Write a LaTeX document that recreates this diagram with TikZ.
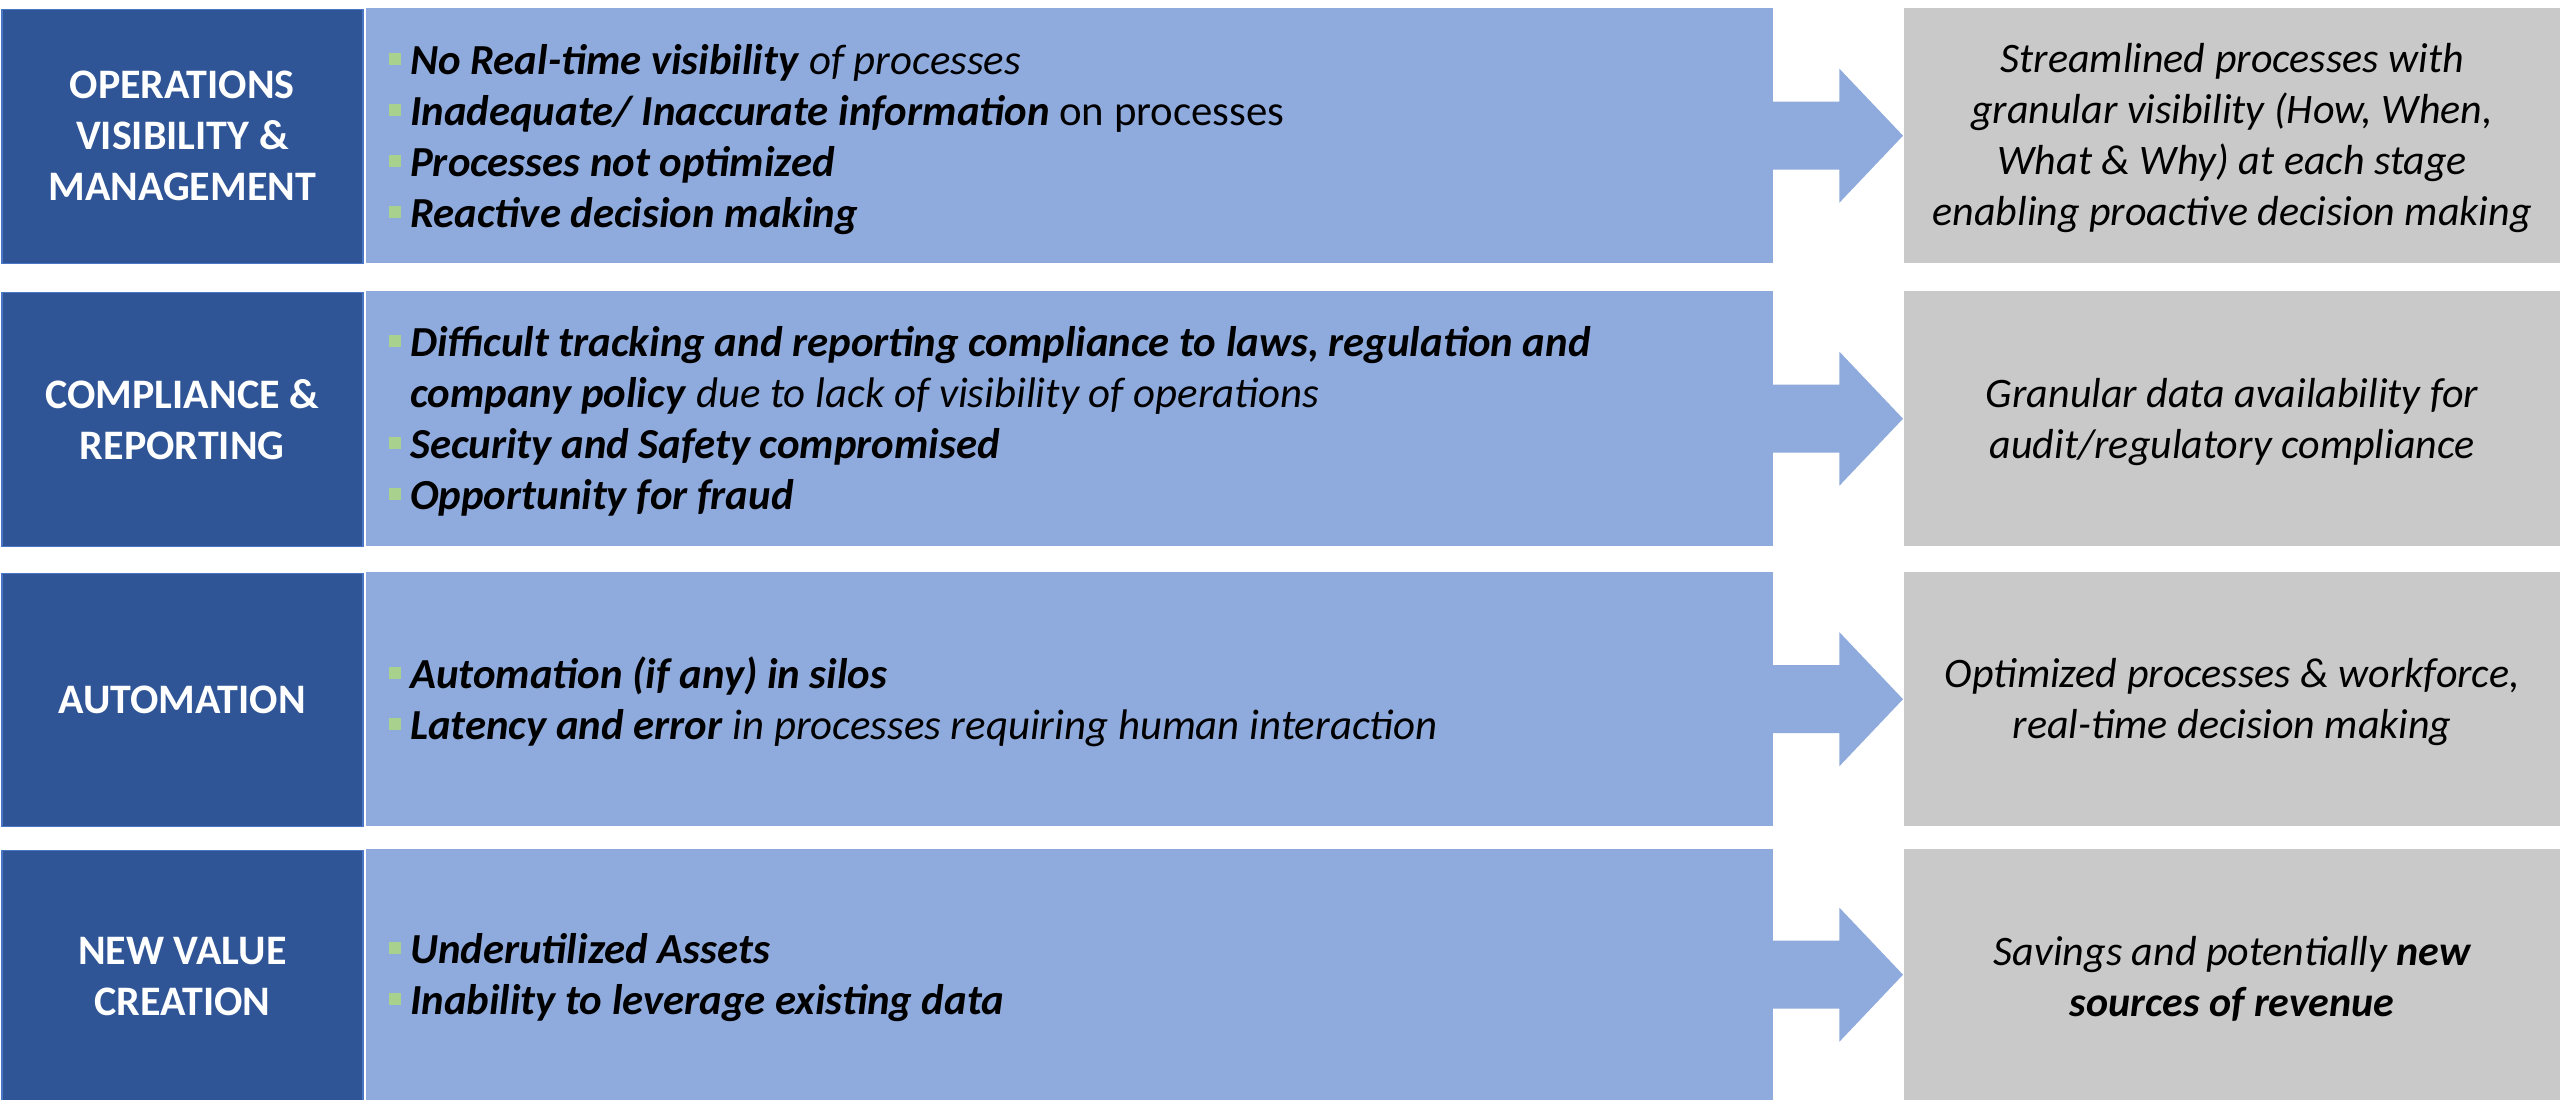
\documentclass[tikz,border=0pt]{standalone}
\usepackage{fontspec}
\setmainfont{Carlito}
\usetikzlibrary{calc}

\definecolor{darkblue}{HTML}{2F5597}
\definecolor{darkedge}{HTML}{4A76C6}
\definecolor{lightblue}{HTML}{8FAADC}
\definecolor{softgray}{HTML}{C9C9C9}
\definecolor{bulgreen}{HTML}{A9D18E}

% green square bullet and the matching hanging indent
\newcommand\bsq{\makebox[21pt][l]{\textcolor{bulgreen}{\rule[9.5pt]{12pt}{12pt}}}}
\newcommand\hang{\hspace*{21pt}}

\tikzset{
  headbox/.style={anchor=north west, fill=darkblue, draw=darkedge, line width=1.5pt,
    text=white, font=\bfseries\fontsize{42}{51}\selectfont, align=center,
    minimum width=361pt, inner sep=0pt},
  issuebox/.style={anchor=north west, fill=lightblue, minimum width=1407pt, inner sep=0pt},
  issuetext/.style={font=\fontsize{42.8}{51}\selectfont, anchor=west, align=left, inner sep=0pt},
  outcomebox/.style={anchor=north west, fill=softgray, minimum width=656pt, inner sep=0pt},
  outcometext/.style={font=\itshape\fontsize{42}{51}\selectfont, align=center, inner sep=0pt},
  pointer/.style={fill=lightblue}
}

\begin{document}
\begin{tikzpicture}[x=1pt,y=-1pt]
\fill[white] (0,0) rectangle (2560,1100);
\useasboundingbox (0,0) rectangle (2560,1100);

% row 1
\node[headbox, minimum height=254pt] (h1) at (1,8.5) {OPERATIONS\\VISIBILITY \&\\MANAGEMENT};
\node[issuebox, minimum height=255pt] (i1) at (366,8) {};
\node[issuetext] (t1) at ($(i1.west)+(23,3.5)$) {%
  \bsq\textbf{\textit{No Real-time visibility}} \textit{of processes}\\
  \bsq\textbf{\textit{Inadequate/ Inaccurate information}} on processes\\
  \bsq\textbf{\textit{Processes not optimized}}\\
  \bsq\textbf{\textit{Reactive decision making}}};
\node[outcomebox, minimum height=255pt] (o1) at (1904,8) {};
\node[outcometext] (u1) at ($(o1.center)+(0,2.5)$) {Streamlined processes with\\granular visibility (How, When,\\What \& Why) at each stage\\enabling proactive decision making};

% row 2
\node[headbox, minimum height=254pt] (h2) at (1,291.5) {COMPLIANCE \&\\REPORTING};
\node[issuebox, minimum height=255pt] (i2) at (366,291) {};
\node[issuetext] (t2) at ($(i2.west)+(23,3)$) {%
  \bsq\textbf{\textit{Difficult tracking and reporting compliance to laws, regulation and}}\\
  \hang\textbf{\textit{company policy}} \textit{due to lack of visibility of operations}\\
  \bsq\textbf{\textit{Security and Safety compromised}}\\
  \bsq\textbf{\textit{Opportunity for fraud}}};
\node[outcomebox, minimum height=255pt] (o2) at (1904,291) {};
\node[outcometext] (u2) at ($(o2.center)+(0,3)$) {Granular data availability for\\audit/regulatory compliance};

% row 3
\node[headbox, minimum height=253pt] (h3) at (1,572.5) {AUTOMATION};
\node[issuebox, minimum height=254pt] (i3) at (366,572) {};
\node[issuetext] (t3) at ($(i3.west)+(23,2.5)$) {%
  \bsq\textbf{\textit{Automation (if any) in silos}}\\
  \bsq\textbf{\textit{Latency and error}} \textit{in processes requiring human interaction}};
\node[outcomebox, minimum height=254pt] (o3) at (1904,572) {};
\node[outcometext] (u3) at ($(o3.center)+(0,3)$) {Optimized processes \& workforce,\\real-time decision making};

% row 4
\node[headbox, minimum height=252pt] (h4) at (1,849.5) {NEW VALUE\\CREATION};
\node[issuebox, minimum height=251pt] (i4) at (366,849) {};
\node[issuetext] (t4) at ($(i4.west)+(23,2.5)$) {%
  \bsq\textbf{\textit{Underutilized Assets}}\\
  \bsq\textbf{\textit{Inability to leverage existing data}}};
\node[outcomebox, minimum height=251pt] (o4) at (1904,849) {};
\node[outcometext] (u4) at ($(o4.center)+(0,4.5)$) {Savings and potentially \textbf{new}\\\textbf{sources of revenue}};

% block arrows from each issue box to its outcome
\foreach \r in {1,2,3,4}{
  \fill[pointer] ($(i\r.east)+(-1,-34)$) -- ($(i\r.east)+(66,-34)$) -- ($(i\r.east)+(66,-67)$)
    -- ($(o\r.west)+(-1,0)$)
    -- ($(i\r.east)+(66,67)$) -- ($(i\r.east)+(66,34)$) -- ($(i\r.east)+(-1,34)$) -- cycle;
}
\end{tikzpicture}
\end{document}
